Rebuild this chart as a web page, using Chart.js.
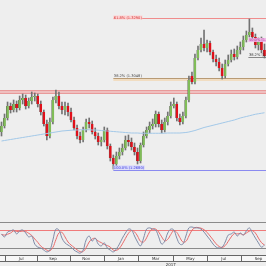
<!DOCTYPE html>
<html>
<head>
<meta charset="utf-8">
<script src="https://cdn.jsdelivr.net/npm/chart.js@4.4.0/dist/chart.umd.min.js"></script>
<style>
  html, body { margin:0; padding:0; width:266px; height:266px; overflow:hidden; background:#eeeeee; }
  #mainWrap { position:absolute; left:0; top:0; width:266px; height:222px; }
  #stochWrap { position:absolute; left:0; top:222px; width:266px; height:44px; }
</style>
</head>
<body>
<div id="mainWrap"><canvas id="main"></canvas></div>
<div id="stochWrap"><canvas id="stoch"></canvas></div>
<script>
const opens = [
1.2832,1.2856,1.2888,1.2936,1.2920,1.2944,1.2928,1.2960,1.2968,1.2936,
1.2956,1.2972,1.2976,1.2944,1.2912,1.2864,1.2816,1.2872,1.2960,1.2976,
1.2936,1.2920,1.2936,1.2912,1.2880,1.2848,1.2816,1.2800,1.2840,1.2872,
1.2864,1.2832,1.2816,1.2792,1.2800,1.2840,1.2776,1.2728,1.2704,1.2736,
1.2752,1.2768,1.2800,1.2792,1.2772,1.2752,1.2716,1.2780,1.2816,1.2840,
1.2856,1.2864,1.2904,1.2864,1.2840,1.2872,1.2896,1.2936,1.2944,1.2888,
1.2872,1.2896,1.2960,1.3056,1.3032,1.3128,1.3160,1.3184,1.3168,1.3188,
1.3152,1.3124,1.3112,1.3088,1.3056,1.3104,1.3120,1.3144,1.3132,1.3160,
1.3172,1.3200,1.3220,1.3232,1.3212,1.3180,1.3192,1.3160];
const highs = [
1.2872,1.2904,1.2952,1.2948,1.2960,1.2956,1.2976,1.2984,1.2980,1.2968,
1.2992,1.2988,1.2984,1.2956,1.2920,1.2880,1.2888,1.2972,1.3000,1.2992,
1.2952,1.2952,1.2948,1.2928,1.2892,1.2860,1.2832,1.2852,1.2884,1.2888,
1.2876,1.2848,1.2828,1.2812,1.2852,1.2848,1.2784,1.2740,1.2752,1.2768,
1.2784,1.2816,1.2820,1.2808,1.2788,1.2768,1.2788,1.2832,1.2852,1.2872,
1.2884,1.2916,1.2912,1.2880,1.2888,1.2912,1.2952,1.2968,1.2952,1.2904,
1.2912,1.2972,1.3056,1.3072,1.3144,1.3176,1.3208,1.3240,1.3200,1.3196,
1.3160,1.3140,1.3128,1.3104,1.3120,1.3140,1.3160,1.3164,1.3176,1.3192,
1.3216,1.3236,1.3284,1.3248,1.3224,1.3208,1.3212,1.3184];
const lows = [
1.2816,1.2848,1.2880,1.2908,1.2912,1.2912,1.2920,1.2944,1.2924,1.2928,
1.2944,1.2956,1.2932,1.2900,1.2856,1.2800,1.2808,1.2864,1.2948,1.2924,
1.2904,1.2900,1.2896,1.2872,1.2840,1.2804,1.2788,1.2792,1.2832,1.2848,
1.2824,1.2804,1.2780,1.2776,1.2792,1.2764,1.2716,1.2684,1.2692,1.2724,
1.2740,1.2760,1.2776,1.2760,1.2740,1.2704,1.2708,1.2772,1.2808,1.2828,
1.2844,1.2852,1.2852,1.2828,1.2832,1.2860,1.2888,1.2928,1.2876,1.2860,
1.2864,1.2888,1.2952,1.3024,1.3024,1.3120,1.3152,1.3156,1.3152,1.3140,
1.3112,1.3096,1.3076,1.3044,1.3048,1.3096,1.3112,1.3120,1.3124,1.3144,
1.3160,1.3192,1.3212,1.3200,1.3168,1.3160,1.3148,1.3128];
const closes = [
1.2856,1.2888,1.2936,1.2920,1.2944,1.2928,1.2960,1.2968,1.2936,1.2956,
1.2972,1.2976,1.2944,1.2912,1.2864,1.2816,1.2872,1.2960,1.2976,1.2936,
1.2920,1.2936,1.2912,1.2880,1.2848,1.2816,1.2800,1.2840,1.2872,1.2864,
1.2832,1.2816,1.2792,1.2800,1.2840,1.2776,1.2728,1.2704,1.2736,1.2752,
1.2768,1.2800,1.2792,1.2772,1.2752,1.2716,1.2780,1.2816,1.2840,1.2856,
1.2864,1.2904,1.2864,1.2840,1.2872,1.2896,1.2936,1.2944,1.2888,1.2872,
1.2896,1.2960,1.3040,1.3032,1.3128,1.3160,1.3184,1.3168,1.3188,1.3152,
1.3124,1.3112,1.3088,1.3056,1.3104,1.3120,1.3144,1.3132,1.3160,1.3172,
1.3200,1.3220,1.3232,1.3212,1.3180,1.3192,1.3160,1.3136];
const maValues = [
1.2796,1.2798,1.2800,1.2802,1.2804,1.2806,1.2808,1.2810,1.2812,1.2814,
1.2816,1.2818,1.2820,1.2822,1.2824,1.2826,1.2828,1.2830,1.2832,1.2834,
1.2836,1.2837,1.2838,1.2839,1.2840,1.2840,1.2841,1.2841,1.2841,1.2841,
1.2840,1.2840,1.2839,1.2838,1.2837,1.2836,1.2835,1.2834,1.2833,1.2832,
1.2831,1.2830,1.2829,1.2828,1.2828,1.2828,1.2827,1.2827,1.2827,1.2827,
1.2827,1.2827,1.2827,1.2827,1.2827,1.2828,1.2828,1.2828,1.2828,1.2828,
1.2829,1.2830,1.2832,1.2835,1.2838,1.2842,1.2846,1.2850,1.2853,1.2856,
1.2859,1.2862,1.2865,1.2868,1.2871,1.2874,1.2877,1.2880,1.2884,1.2888,
1.2891,1.2894,1.2897,1.2900,1.2903,1.2905,1.2907,1.2909];
const stochK = [
67,57,73,77,80,67,77,80,70,57,
60,33,23,20,13,7,13,47,83,80,
53,37,30,23,13,7,3,13,47,60,
43,53,33,27,37,20,13,7,17,33,
53,70,83,80,60,40,27,53,83,87,
83,80,57,33,43,70,83,80,53,33,
33,60,87,90,87,87,83,73,60,47,
33,23,20,23,40,63,67,73,60,70,
63,77,87,70,53,37,23,30];
const stochD = [
65,63,66,70,77,75,75,76,75,69,
62,50,39,26,19,13,11,22,48,70,
72,57,40,30,22,14,8,8,21,40,
50,52,43,38,32,28,23,13,12,19,
34,52,69,78,74,60,42,40,54,74,
84,83,73,57,44,49,65,78,72,55,
40,42,60,79,88,88,86,81,72,60,
47,34,25,22,28,42,57,68,67,68,
64,70,76,78,70,53,38,30];
const stochLevels = [80, 20];
const monthLabels = ["Jul","Sep","Nov","Jan","Mar","May","Jul","Sep"];
const monthTickIndex = [6.5, 17, 28, 39.5, 51, 62.5, 73.5, 85];
const yearLabel = "2017";
const yearTickIndex = 56;
const fibLevels = [1.3290, 1.3048, 1.2680];
const fibLabels = ["61.8% (1.3290)", "38.2% (1.3048)", "100.0% (1.2680)"];
const fibStartIndex = 37;
const rightFibLevels = [1.3200, 1.3132];
const rightFibLabels = ["50.0% (1.3200)", "38.2% (1.3132)"];
const rightFibStartIndex = 82;
const zoneRange = [1.2984, 1.3000];

const candleLabels = opens.map((_, i) => 'c' + i);
const GREEN = '#80bc58', RED = '#e0101a';

const overlayPlugin = {
  id: 'overlay',
  beforeDatasetsDraw(chart) {
    const {ctx, chartArea, scales: {x, y}} = chart;
    ctx.save();
    const zt = y.getPixelForValue(zoneRange[1]), zb = y.getPixelForValue(zoneRange[0]);
    ctx.fillStyle = 'rgba(240,160,160,0.6)';
    ctx.fillRect(chartArea.left, zt, chartArea.right - chartArea.left, zb - zt);
    ctx.strokeStyle = '#e89a9a'; ctx.lineWidth = 1;
    ctx.beginPath();
    ctx.moveTo(chartArea.left, Math.round(zt) + 0.5); ctx.lineTo(chartArea.right, Math.round(zt) + 0.5);
    ctx.moveTo(chartArea.left, Math.round(zb) - 0.5); ctx.lineTo(chartArea.right, Math.round(zb) - 0.5);
    ctx.stroke();
    const x0 = x.getPixelForValue(fibStartIndex);
    const styles = [
      {line:'#f08c8c'}, {line:'#b89a74', band:'#f1ddc2'}, {line:'#8a8af0'}
    ];
    fibLevels.forEach((lv, k) => {
      const py = Math.round(y.getPixelForValue(lv)) + 0.5;
      if (styles[k].band) { ctx.fillStyle = styles[k].band; ctx.fillRect(x0, py + 0.5, chartArea.right - x0, 2); }
      ctx.strokeStyle = styles[k].line; ctx.lineWidth = 1;
      ctx.beginPath(); ctx.moveTo(x0, py); ctx.lineTo(chartArea.right, py); ctx.stroke();
    });
    const xr = x.getPixelForValue(rightFibStartIndex) - 1;
    const py2 = Math.round(y.getPixelForValue(rightFibLevels[1])) + 0.5;
    ctx.strokeStyle = '#888'; ctx.beginPath(); ctx.moveTo(xr, py2); ctx.lineTo(chartArea.right, py2); ctx.stroke();
    ctx.restore();
  },
  afterDatasetsDraw(chart) {
    const {ctx, chartArea, scales: {x, y}} = chart;
    ctx.save();
    ctx.font = "3.6px 'DejaVu Sans'";
    ctx.textBaseline = 'bottom';
    const x0 = x.getPixelForValue(fibStartIndex);
    const lab = [
      {bg:'rgba(255,205,205,0.9)', fg:'#d23a3a', center:true},
      {bg:null, fg:'#444'},
      {bg:'rgba(205,205,255,0.9)', fg:'#4a4ad8'}
    ];
    fibLevels.forEach((lv, k) => {
      const py = y.getPixelForValue(lv);
      const w = ctx.measureText(fibLabels[k]).width;
      const ty = lab[k].center ? py + 2 : py - 0.5;
      if (lab[k].bg) { ctx.fillStyle = lab[k].bg; ctx.fillRect(x0, ty - 4, w + 1, 4); }
      ctx.fillStyle = lab[k].fg;
      ctx.fillText(fibLabels[k], x0 + 0.5, ty);
    });
    const xr = x.getPixelForValue(rightFibStartIndex) - 1;
    let py = y.getPixelForValue(rightFibLevels[0]);
    let w = ctx.measureText(rightFibLabels[0]).width;
    ctx.fillStyle = 'rgba(240,180,230,0.9)'; ctx.fillRect(xr, py - 2, w + 1, 4);
    ctx.fillStyle = '#b040a0'; ctx.fillText(rightFibLabels[0], xr + 0.5, py + 2);
    py = y.getPixelForValue(rightFibLevels[1]);
    ctx.fillStyle = '#333'; ctx.fillText(rightFibLabels[1], xr + 0.5, py);
    ctx.restore();
  }
};

new Chart(document.getElementById('main'), {
  type: 'bar',
  data: {
    labels: candleLabels,
    datasets: [
      { type: 'line', data: maValues, borderColor: '#a2c8e8', borderWidth: 1, pointRadius: 0, tension: 0.3, order: 0 },
      { data: opens.map((o, i) => [o, closes[i]]), backgroundColor: opens.map((o, i) => closes[i] >= o ? GREEN : RED),
        borderColor: '#5a5a5a', borderWidth: { left: 0.5, right: 0, top: 0, bottom: 0 },
        barThickness: 2.5, grouped: false, order: 1 },
      { data: lows.map((l, i) => [l, highs[i]]), backgroundColor: '#737373', barThickness: 1, grouped: false, order: 2 }
    ]
  },
  options: {
    responsive: true, maintainAspectRatio: false, animation: false, events: [],
    layout: { padding: 0 },
    plugins: { legend: { display: false }, tooltip: { enabled: false } },
    scales: {
      x: { display: false, offset: true },
      y: { display: false, min: 1.2472, max: 1.3360 }
    }
  },
  plugins: [overlayPlugin]
});

const stochPlugin = {
  id: 'stochDeco',
  beforeDatasetsDraw(chart) {
    const {ctx, chartArea, scales: {y}} = chart;
    ctx.save();
    ctx.lineWidth = 1;
    ctx.strokeStyle = '#8a8a8a';
    ctx.beginPath(); ctx.moveTo(0, chartArea.top + 0.5); ctx.lineTo(chartArea.right, chartArea.top + 0.5); ctx.stroke();
    const cols = ['#f07a7a', '#8a8a8a'];
    stochLevels.forEach((lv, k) => {
      const py = Math.round(y.getPixelForValue(lv)) + 0.5;
      ctx.strokeStyle = cols[k];
      ctx.beginPath(); ctx.moveTo(chartArea.left, py); ctx.lineTo(chartArea.right, py); ctx.stroke();
    });
    ctx.restore();
  },
  afterDraw(chart) {
    const {ctx, chartArea, scales: {x}} = chart;
    ctx.save();
    const top = Math.round(chartArea.bottom);
    ctx.fillStyle = '#f7f7f7';
    ctx.fillRect(0, top, chart.width, 7);
    ctx.strokeStyle = '#666'; ctx.lineWidth = 1;
    ctx.beginPath();
    ctx.moveTo(0, top + 0.5); ctx.lineTo(chart.width, top + 0.5);
    ctx.moveTo(0, top + 6.5); ctx.lineTo(chart.width, top + 6.5);
    const px = monthTickIndex.map(v => x.getPixelForValue(v));
    const step = px[1] - px[0];
    const bounds = [px[0] - step / 2];
    for (let k = 1; k < px.length; k++) bounds.push((px[k - 1] + px[k]) / 2);
    bounds.push(px[px.length - 1] + step / 2);
    bounds.forEach(b => { const bx = Math.round(b) + 0.5; ctx.moveTo(bx, top); ctx.lineTo(bx, top + 7); });
    ctx.stroke();
    ctx.fillStyle = '#333';
    ctx.font = "4px 'DejaVu Sans'";
    ctx.textAlign = 'center'; ctx.textBaseline = 'middle';
    monthLabels.forEach((t, k) => ctx.fillText(t, px[k], top + 3.7));
    ctx.fillText(yearLabel, x.getPixelForValue(yearTickIndex), top + 9.5);
    ctx.restore();
  }
};

new Chart(document.getElementById('stoch'), {
  type: 'line',
  data: {
    labels: candleLabels,
    datasets: [
      { data: stochK, borderColor: '#7f8aa6', borderWidth: 1, pointRadius: 0, tension: 0.4 },
      { data: stochD, borderColor: '#e86a6a', borderWidth: 1, pointRadius: 0, tension: 0.4 }
    ]
  },
  options: {
    responsive: true, maintainAspectRatio: false, animation: false, events: [],
    layout: { padding: { top: 0, bottom: 11, left: 0, right: 0 } },
    plugins: { legend: { display: false }, tooltip: { enabled: false } },
    scales: {
      x: { display: false, offset: true },
      y: { display: false, min: -3.33, max: 106.67 }
    }
  },
  plugins: [stochPlugin]
});
</script>
</body>
</html>
